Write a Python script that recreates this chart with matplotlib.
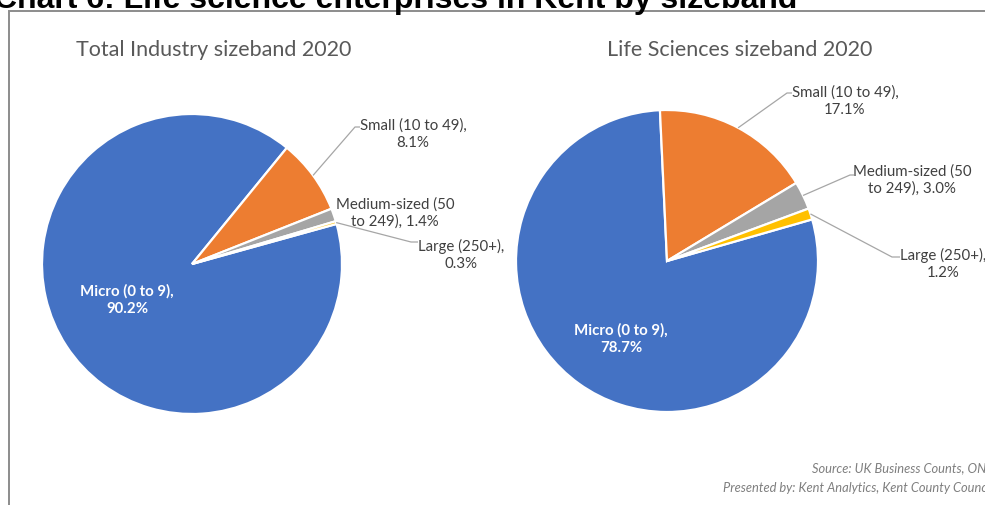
import numpy as np
import matplotlib.pyplot as plt
from matplotlib.patches import Rectangle

# sizeband shares, % of enterprises
sizebands = ['Micro (0 to 9)', 'Small (10 to 49)', 'Medium-sized (50 to 249)', 'Large (250+)']
total_industry = [90.2, 8.1, 1.4, 0.3]
life_sciences = [78.7, 17.1, 3.0, 1.2]
colours = ['#4472C4', '#ED7D31', '#A5A5A5', '#FFC000']

W, H = 985, 506
fig = plt.figure(figsize=(W / 100, H / 100), dpi=100)
ax = fig.add_axes([0, 0, 1, 1])

FONT = 'Lato'
LABEL_COL = '#404040'
LINE_COL = '#A6A6A6'
LABEL_SIZE = 10.8


def Y(py):
    # y measured from the top edge
    return H - py


def draw_pie(values, cx, cy, r, start):
    wedges, _ = ax.pie(values, colors=colours, center=(cx, Y(cy)), radius=r,
                       startangle=start, counterclock=False,
                       wedgeprops=dict(edgecolor='white', linewidth=1.6))
    return wedges


def edge_point(w):
    mid = np.deg2rad((w.theta1 + w.theta2) / 2)
    cx, cy = w.center
    return cx + w.r * np.cos(mid), cy + w.r * np.sin(mid)


def leader(w, elbow, end):
    x0, y0 = edge_point(w)
    ax.plot([x0, elbow[0], end[0]], [y0, Y(elbow[1]), Y(end[1])],
            color=LINE_COL, lw=0.9, solid_capstyle='butt')


def label(text, x, y, **kw):
    ax.text(x, Y(y), text, ha='center', va='center', fontsize=LABEL_SIZE,
            family=FONT, color=LABEL_COL, linespacing=1.25, **kw)


def micro_label(value, x, y):
    ax.text(x, Y(y), f'Micro (0 to 9),\n{value:.1f}%', ha='center',
            va='center', fontsize=LABEL_SIZE, family=FONT, weight='bold',
            color='white', linespacing=1.25)


# --- Total industry ---
w1 = draw_pie(total_industry, 192, 265, 150, 15.5)
micro_label(total_industry[0], 127, 300)
leader(w1[1], (355, 128), (360, 128))
label(f'Small (10 to 49),\n{total_industry[1]:.1f}%', 413, 134)
label(f'Medium-sized (50\nto 249), {total_industry[2]:.1f}%', 395, 213)
leader(w1[3], (411, 243), (418, 243))
label(f'Large (250+),\n{total_industry[3]:.1f}%', 461, 255)

# --- Life sciences ---
w2 = draw_pie(life_sciences, 667, 262, 151, 16)
micro_label(life_sciences[0], 621, 339)
leader(w2[1], (787, 94), (792, 94))
label(f'Small (10 to 49),\n{life_sciences[1]:.1f}%', 845, 101)
leader(w2[2], (850, 176), (854, 176))
label(f'Medium-sized (50\nto 249), {life_sciences[2]:.1f}%', 912, 180)
leader(w2[3], (892, 258), (900, 258))
label(f'Large (250+),\n{life_sciences[3]:.1f}%', 943, 264)

# pie titles
ax.text(214, Y(50), 'Total Industry sizeband 2020', ha='center', va='center',
        fontsize=15.5, family=FONT, color='#595959')
ax.text(740, Y(50), 'Life Sciences sizeband 2020', ha='center', va='center',
        fontsize=15.5, family=FONT, color='#595959')

# source notes
ax.text(993, Y(468), 'Source: UK Business Counts, ONS', ha='right', va='center',
        fontsize=9.3, family=FONT, style='italic', color='#7F7F7F')
ax.text(993, Y(488), 'Presented by: Kent Analytics, Kent County Council', ha='right',
        va='center', fontsize=9.3, family=FONT, style='italic', color='#7F7F7F')

# chart frame and heading above it
ax.add_patch(Rectangle((9, -10), 1100, Y(12) + 10, fill=False,
                       edgecolor='#8C8C8C', lw=1.4, clip_on=True))
ax.text(-6, Y(8), 'Chart 6: Life science enterprises in Kent by sizeband',
        ha='left', va='baseline', fontsize=23, family='Liberation Sans',
        weight='bold', color='black')

ax.set_xlim(0, W)
ax.set_ylim(0, H)
ax.set_aspect('equal')
ax.axis('off')

fig.savefig('out.png', dpi=100)
